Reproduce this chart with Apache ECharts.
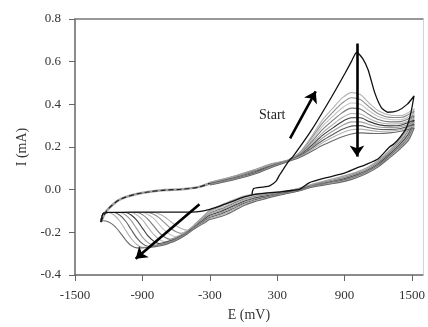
<!DOCTYPE html>
<html>
<head>
<meta charset="utf-8">
<script src="https://cdn.jsdelivr.net/npm/echarts@6/dist/echarts.min.js"></script>
<style>
  html, body { margin: 0; padding: 0; background: #fff; }
  #chart { width: 428px; height: 327px; }
</style>
</head>
<body>
<div id="chart"></div>
<script>
// axis ticks
const xTicks = [-1500, -900, -300, 300, 900, 1500];
const yTicks = [-0.4, -0.2, 0.0, 0.2, 0.4, 0.6, 0.8];

// first scan (black), E in mV, I in mA
const firstCycleE = [75, 90, 170, 233, 290, 320, 360, 409, 440, 614, 789, 905, 960, 1008, 1060, 1109, 1168, 1226, 1284, 1372, 1459, 1518,
  1490, 1450, 1400, 1340, 1300, 1200, 1100, 1000, 905, 730, 584, 497, 400, 300, 200, 100, 0, -100, -200, -300,
  -400, -500, -700, -900, -1100, -1200, -1250, -1270];
const firstCycleI = [-0.022, 0.005, 0.012, 0.018, 0.04, 0.068, 0.1, 0.138, 0.155, 0.286, 0.439, 0.547, 0.6, 0.645, 0.615, 0.562, 0.455, 0.386, 0.363, 0.37, 0.401, 0.439,
  0.36, 0.29, 0.25, 0.215, 0.2, 0.145, 0.12, 0.1, 0.079, 0.055, 0.032, 0.001, -0.005, -0.012, -0.016, -0.022, -0.035, -0.055, -0.075, -0.092,
  -0.103, -0.105, -0.105, -0.105, -0.106, -0.106, -0.112, -0.152];

// common anodic branch leaving the negative vertex (dashed band)
const sharedE = [-1270, -1250, -1220, -1180, -1120, -1050, -950, -850, -700, -550, -400, -300];
const sharedI = [-0.152, -0.128, -0.1, -0.078, -0.052, -0.035, -0.02, -0.011, -0.002, 0.002, 0.012, 0.03];

// later cycles (grey): anodic sweep
const anodicE = [-300, -100, 100, 250, 400, 500, 600, 700, 800, 880, 960, 1040, 1120, 1200, 1300, 1400, 1520];
const anodicCurrents = [
  [0.035, 0.062, 0.095, 0.122, 0.14, 0.175, 0.245, 0.325, 0.385, 0.43, 0.455, 0.446, 0.405, 0.37, 0.35, 0.347, 0.38],
  [0.034, 0.06, 0.093, 0.12, 0.139, 0.172, 0.237, 0.31, 0.366, 0.407, 0.431, 0.423, 0.387, 0.356, 0.339, 0.338, 0.369],
  [0.032, 0.058, 0.09, 0.118, 0.138, 0.169, 0.228, 0.295, 0.346, 0.384, 0.406, 0.4, 0.369, 0.343, 0.329, 0.328, 0.357],
  [0.031, 0.056, 0.088, 0.116, 0.137, 0.166, 0.22, 0.28, 0.327, 0.361, 0.382, 0.378, 0.351, 0.329, 0.318, 0.319, 0.346],
  [0.029, 0.054, 0.085, 0.114, 0.136, 0.163, 0.211, 0.265, 0.307, 0.338, 0.357, 0.355, 0.333, 0.316, 0.308, 0.31, 0.334],
  [0.028, 0.052, 0.083, 0.112, 0.135, 0.161, 0.204, 0.253, 0.291, 0.32, 0.337, 0.337, 0.319, 0.305, 0.299, 0.302, 0.325],
  [0.026, 0.05, 0.08, 0.11, 0.134, 0.158, 0.197, 0.241, 0.276, 0.301, 0.318, 0.318, 0.305, 0.294, 0.291, 0.295, 0.316],
  [0.025, 0.048, 0.078, 0.108, 0.134, 0.156, 0.191, 0.229, 0.26, 0.283, 0.298, 0.3, 0.29, 0.283, 0.282, 0.287, 0.306],
  [0.023, 0.046, 0.075, 0.106, 0.133, 0.154, 0.185, 0.219, 0.247, 0.267, 0.281, 0.284, 0.278, 0.273, 0.275, 0.281, 0.298],
  [0.022, 0.044, 0.073, 0.104, 0.132, 0.151, 0.178, 0.207, 0.231, 0.248, 0.261, 0.266, 0.264, 0.263, 0.266, 0.274, 0.289]
];

// later cycles: cathodic sweep back to -200 mV
const returnE = [1520, 1470, 1400, 1300, 1200, 1100, 1000, 900, 800, 700, 600, 500, 400, 300, 200, 100, 0, -100, -200];
const returnCurrents = [
  [0.38, 0.31, 0.245, 0.185, 0.138, 0.104, 0.082, 0.066, 0.052, 0.038, 0.024, 0.008, -0.004, -0.01, -0.015, -0.02, -0.03, -0.05, -0.072],
  [0.369, 0.3, 0.24, 0.181, 0.135, 0.101, 0.079, 0.063, 0.049, 0.036, 0.022, 0.007, -0.005, -0.012, -0.018, -0.024, -0.035, -0.055, -0.078],
  [0.357, 0.29, 0.234, 0.177, 0.131, 0.098, 0.076, 0.06, 0.047, 0.034, 0.021, 0.005, -0.007, -0.014, -0.021, -0.028, -0.04, -0.061, -0.084],
  [0.346, 0.28, 0.228, 0.173, 0.128, 0.095, 0.073, 0.057, 0.044, 0.032, 0.019, 0.004, -0.008, -0.016, -0.024, -0.032, -0.045, -0.067, -0.09],
  [0.334, 0.27, 0.222, 0.169, 0.124, 0.092, 0.07, 0.054, 0.042, 0.03, 0.018, 0.002, -0.01, -0.018, -0.027, -0.036, -0.05, -0.073, -0.096],
  [0.325, 0.262, 0.216, 0.165, 0.121, 0.089, 0.067, 0.051, 0.039, 0.028, 0.016, 0.001, -0.011, -0.02, -0.03, -0.04, -0.055, -0.079, -0.102],
  [0.316, 0.254, 0.21, 0.161, 0.117, 0.086, 0.064, 0.048, 0.037, 0.026, 0.015, -0.001, -0.013, -0.022, -0.033, -0.044, -0.06, -0.085, -0.108],
  [0.306, 0.246, 0.204, 0.157, 0.114, 0.083, 0.061, 0.045, 0.034, 0.024, 0.013, -0.002, -0.014, -0.024, -0.036, -0.048, -0.065, -0.091, -0.114],
  [0.298, 0.24, 0.199, 0.153, 0.11, 0.08, 0.058, 0.042, 0.032, 0.022, 0.012, -0.004, -0.016, -0.026, -0.039, -0.052, -0.07, -0.097, -0.12],
  [0.289, 0.232, 0.194, 0.149, 0.107, 0.077, 0.055, 0.039, 0.029, 0.02, 0.01, -0.005, -0.017, -0.028, -0.042, -0.056, -0.075, -0.103, -0.126]
];

// later cycles: reduction wave down to the negative vertex
const reductionE = [-300, -350, -400, -450, -500, -550, -600, -650, -700, -750, -800, -850, -900, -950, -1000, -1050, -1100, -1150, -1200, -1250, -1270];
const reductionCurrents = [
  [-0.095, -0.12, -0.145, -0.17, -0.19, -0.183, -0.169, -0.149, -0.128, -0.114, -0.107, -0.107, -0.107, -0.107, -0.107, -0.107, -0.107, -0.107, -0.107, -0.113, -0.148],
  [-0.1, -0.124, -0.148, -0.172, -0.192, -0.205, -0.197, -0.181, -0.156, -0.132, -0.115, -0.107, -0.107, -0.107, -0.107, -0.107, -0.107, -0.107, -0.107, -0.113, -0.148],
  [-0.105, -0.128, -0.151, -0.174, -0.194, -0.209, -0.22, -0.211, -0.192, -0.164, -0.135, -0.116, -0.107, -0.107, -0.107, -0.107, -0.107, -0.107, -0.107, -0.113, -0.148],
  [-0.11, -0.132, -0.154, -0.176, -0.196, -0.212, -0.224, -0.233, -0.223, -0.202, -0.17, -0.139, -0.117, -0.107, -0.107, -0.107, -0.107, -0.107, -0.107, -0.113, -0.148],
  [-0.115, -0.136, -0.157, -0.178, -0.198, -0.214, -0.227, -0.237, -0.244, -0.233, -0.21, -0.176, -0.141, -0.118, -0.107, -0.107, -0.107, -0.107, -0.107, -0.113, -0.148],
  [-0.12, -0.14, -0.16, -0.18, -0.2, -0.216, -0.23, -0.24, -0.248, -0.253, -0.241, -0.217, -0.18, -0.144, -0.119, -0.107, -0.107, -0.107, -0.107, -0.113, -0.148],
  [-0.125, -0.144, -0.163, -0.182, -0.202, -0.218, -0.232, -0.243, -0.251, -0.256, -0.26, -0.248, -0.222, -0.184, -0.145, -0.119, -0.107, -0.107, -0.107, -0.113, -0.148],
  [-0.13, -0.148, -0.166, -0.184, -0.204, -0.22, -0.234, -0.245, -0.254, -0.26, -0.264, -0.266, -0.253, -0.226, -0.187, -0.147, -0.12, -0.107, -0.107, -0.113, -0.148],
  [-0.135, -0.152, -0.169, -0.186, -0.206, -0.222, -0.236, -0.247, -0.256, -0.262, -0.266, -0.269, -0.27, -0.257, -0.229, -0.189, -0.148, -0.12, -0.107, -0.113, -0.148],
  [-0.14, -0.156, -0.172, -0.188, -0.208, -0.224, -0.238, -0.249, -0.258, -0.264, -0.268, -0.271, -0.273, -0.273, -0.262, -0.235, -0.2, -0.17, -0.152, -0.146, -0.148]
];

// arrows drawn on the plot: [E start, I start, E end, I end]
const arrows = [
  [1010, 0.685, 1010, 0.155],
  [415, 0.24, 643, 0.461],
  [-392, -0.068, -960, -0.324]
];

const greys = ['#b4b4b4', '#8c8c8c', '#c2c2c2', '#7a7a7a', '#adadad', '#3a3a3a', '#9c9c9c', '#5c5c5c', '#b0b0b0', '#6a6a6a'];
const serif = '"Liberation Serif", "DejaVu Serif", serif';

function pairs(xs, ys) {
  return xs.map((x, i) => [x, ys[i]]);
}

let myChart = echarts.init(document.getElementById('chart'));

let series = [];
series.push({
  type: 'line', data: pairs(sharedE, sharedI), smooth: 0.3, showSymbol: false,
  lineStyle: { color: '#a0a0a0', width: 2.5 }, z: 2
});
series.push({
  type: 'line', data: pairs(sharedE, sharedI), smooth: 0.3, showSymbol: false,
  lineStyle: { color: '#222', width: 1.2, type: [5, 3] }, z: 3
});
for (let j = 0; j < anodicCurrents.length; j++) {
  let pts = pairs(anodicE, anodicCurrents[j])
    .concat(pairs(returnE, returnCurrents[j]))
    .concat(pairs(reductionE, reductionCurrents[j]));
  series.push({
    type: 'line', data: pts, smooth: 0.25, showSymbol: false,
    lineStyle: { color: greys[j], width: 1.1 }, z: 2
  });
}
series.push({
  type: 'line', data: pairs(firstCycleE, firstCycleI), smooth: 0.2, showSymbol: false,
  lineStyle: { color: '#111', width: 1.3 }, z: 4,
  markLine: {
    silent: true,
    animation: false,
    symbol: ['none', 'arrow'],
    symbolSize: 11,
    label: { show: false },
    lineStyle: { color: '#000', width: 2.6, type: 'solid' },
    data: arrows.map(a => [{ coord: [a[0], a[1]] }, { coord: [a[2], a[3]] }])
  }
});

var option = {
  animation: false,
  backgroundColor: '#fff',
  grid: { left: 75, right: 1, top: 19, bottom: 48 },
  xAxis: [{
    type: 'value', min: -1500, max: 1596,
    name: 'E (mV)', nameLocation: 'middle', nameGap: 33,
    nameTextStyle: { fontFamily: serif, fontSize: 14, color: '#333' },
    axisLine: { show: true, onZero: false, lineStyle: { color: '#666', width: 1.5 } },
    axisTick: { show: true, length: 6, customValues: xTicks, lineStyle: { color: '#666' } },
    axisLabel: { margin: 14, customValues: xTicks, fontFamily: serif, fontSize: 13, color: '#333',
      formatter: function (v) { return String(v); } },
    splitLine: { show: false }
  }, {
    type: 'value', min: -1500, max: 1596, position: 'top',
    axisLine: { show: true, onZero: false, lineStyle: { color: '#777', width: 1.5 } },
    axisTick: { show: false }, axisLabel: { show: false }, splitLine: { show: false }
  }],
  yAxis: [{
    type: 'value', min: -0.4, max: 0.8, interval: 0.2,
    name: 'I (mA)', nameLocation: 'middle', nameGap: 44, nameRotate: 90,
    nameTextStyle: { fontFamily: serif, fontSize: 14, color: '#333' },
    axisLine: { show: true, onZero: false, lineStyle: { color: '#666', width: 1.5 } },
    axisTick: { show: true, length: 6, lineStyle: { color: '#666' } },
    axisLabel: { margin: 14, fontFamily: serif, fontSize: 13, color: '#333',
      formatter: function (v) { return v.toFixed(1); } },
    splitLine: { show: false }
  }, {
    type: 'value', min: -0.4, max: 0.8, position: 'right',
    axisLine: { show: true, onZero: false, lineStyle: { color: '#d4d4d4', width: 1 } },
    axisTick: { show: false }, axisLabel: { show: false }, splitLine: { show: false }
  }],
  graphic: [{
    type: 'text', left: 259, top: 108,
    style: { text: 'Start', font: '14px ' + serif, fill: '#222' }
  }],
  series: series
};
myChart.setOption(option);
</script>
</body>
</html>
